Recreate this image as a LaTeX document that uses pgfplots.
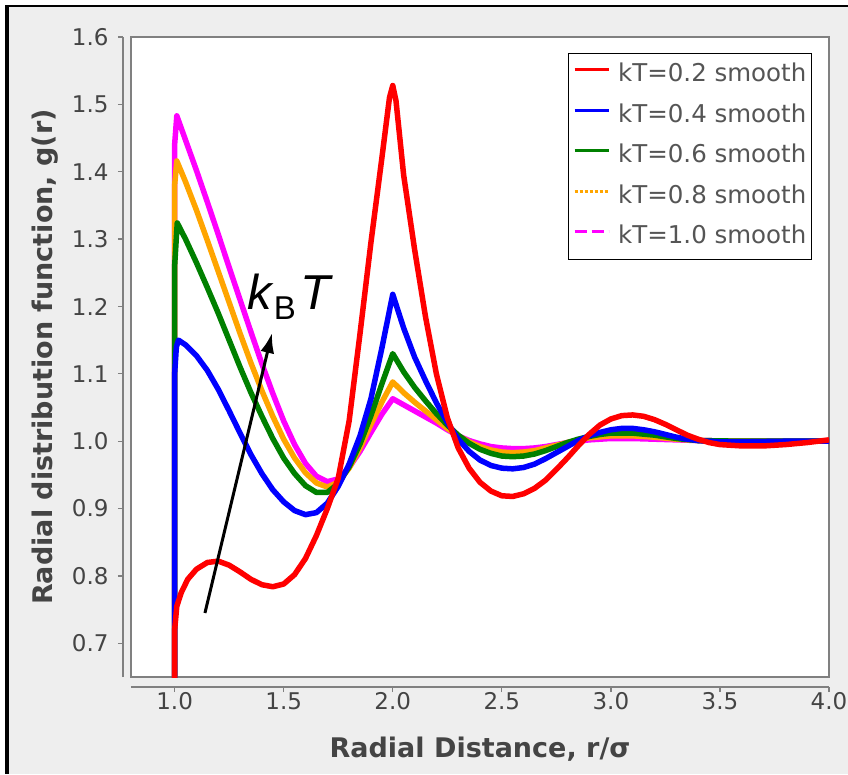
\documentclass[border=0pt]{standalone}
\usepackage{pgfplots}
\pgfplotsset{compat=1.18}
\usetikzlibrary{arrows.meta}
\usepackage{fontspec}
\setmainfont{DejaVu Sans}
\newfontfamily\kfont{Liberation Sans}
\definecolor{panel}{RGB}{238,238,238}
\definecolor{txt}{RGB}{68,68,68}
\definecolor{legtxt}{RGB}{85,85,85}
\definecolor{frame}{RGB}{128,128,128}
\definecolor{cred}{RGB}{255,0,0}
\definecolor{cblue}{RGB}{0,0,255}
\definecolor{cgreen}{RGB}{0,128,0}
\definecolor{corange}{RGB}{255,165,0}
\definecolor{cmag}{RGB}{255,0,255}

\pgfplotstableread{
x y
1.000 0.600
1.000 0.720
1.010 0.755
1.030 0.775
1.060 0.795
1.100 0.810
1.150 0.820
1.200 0.822
1.250 0.816
1.300 0.806
1.350 0.795
1.400 0.787
1.450 0.784
1.500 0.788
1.550 0.802
1.600 0.826
1.650 0.860
1.700 0.900
1.750 0.945
1.800 1.030
1.850 1.160
1.900 1.295
1.950 1.420
1.985 1.510
2.000 1.528
2.015 1.505
2.050 1.395
2.100 1.285
2.150 1.185
2.200 1.100
2.250 1.035
2.300 0.990
2.350 0.960
2.400 0.939
2.450 0.926
2.500 0.919
2.550 0.918
2.600 0.922
2.650 0.930
2.700 0.942
2.750 0.958
2.800 0.975
2.850 0.993
2.900 1.010
2.950 1.024
3.000 1.033
3.050 1.038
3.100 1.039
3.150 1.037
3.200 1.032
3.250 1.025
3.300 1.017
3.350 1.009
3.400 1.003
3.450 0.998
3.500 0.995
3.600 0.993
3.700 0.993
3.800 0.995
3.900 0.998
4.000 1.002
}\kTa

\pgfplotstableread{
x y
1.000 0.600
1.000 1.100
1.008 1.140
1.018 1.150
1.050 1.143
1.100 1.127
1.150 1.105
1.200 1.077
1.250 1.045
1.300 1.012
1.350 0.980
1.400 0.952
1.450 0.928
1.500 0.910
1.550 0.897
1.600 0.891
1.650 0.894
1.700 0.908
1.750 0.933
1.800 0.966
1.850 1.008
1.900 1.063
1.950 1.138
2.000 1.218
2.050 1.168
2.100 1.125
2.150 1.090
2.200 1.057
2.250 1.028
2.300 1.003
2.350 0.985
2.400 0.972
2.450 0.964
2.500 0.960
2.550 0.959
2.600 0.961
2.650 0.966
2.700 0.974
2.750 0.983
2.800 0.992
2.850 1.001
2.900 1.008
2.950 1.013
3.000 1.017
3.050 1.019
3.100 1.019
3.150 1.017
3.200 1.014
3.250 1.010
3.300 1.006
3.350 1.003
3.400 1.001
3.500 0.999
3.600 0.999
3.800 1.000
4.000 1.000
}\kTb

\pgfplotstableread{
x y
1.000 0.600
1.000 1.260
1.012 1.324
1.050 1.300
1.100 1.265
1.150 1.228
1.200 1.190
1.250 1.150
1.300 1.110
1.350 1.072
1.400 1.037
1.450 1.004
1.500 0.975
1.550 0.952
1.600 0.934
1.650 0.924
1.700 0.924
1.750 0.937
1.800 0.962
1.850 0.996
1.900 1.038
1.950 1.085
2.000 1.130
2.050 1.103
2.100 1.080
2.150 1.060
2.200 1.041
2.250 1.024
2.300 1.009
2.350 0.997
2.400 0.988
2.450 0.982
2.500 0.978
2.550 0.977
2.600 0.978
2.650 0.981
2.700 0.986
2.750 0.992
2.800 0.998
2.850 1.003
2.900 1.007
2.950 1.010
3.000 1.012
3.100 1.012
3.200 1.009
3.300 1.004
3.400 1.001
3.600 1.000
4.000 1.000
}\kTc

\pgfplotstableread{
x y
1.000 0.600
1.000 1.380
1.010 1.416
1.050 1.385
1.100 1.343
1.150 1.298
1.200 1.252
1.250 1.206
1.300 1.160
1.350 1.116
1.400 1.075
1.450 1.037
1.500 1.003
1.550 0.975
1.600 0.953
1.650 0.938
1.700 0.932
1.750 0.939
1.800 0.960
1.850 0.990
1.900 1.025
1.950 1.058
2.000 1.088
2.050 1.072
2.100 1.058
2.150 1.045
2.200 1.032
2.250 1.019
2.300 1.008
2.350 0.999
2.400 0.992
2.450 0.987
2.500 0.984
2.550 0.983
2.600 0.984
2.650 0.986
2.700 0.990
2.750 0.994
2.800 0.998
2.850 1.002
2.900 1.005
3.000 1.008
3.100 1.008
3.200 1.006
3.300 1.003
3.400 1.001
3.600 1.000
4.000 1.000
}\kTd

\pgfplotstableread{
x y
1.000 0.600
1.000 1.440
1.010 1.483
1.050 1.447
1.100 1.402
1.150 1.355
1.200 1.307
1.250 1.258
1.300 1.210
1.350 1.162
1.400 1.115
1.450 1.071
1.500 1.030
1.550 0.995
1.600 0.967
1.650 0.948
1.700 0.940
1.750 0.944
1.800 0.961
1.850 0.985
1.900 1.013
1.950 1.040
2.000 1.063
2.050 1.054
2.100 1.045
2.150 1.036
2.200 1.027
2.250 1.017
2.300 1.008
2.350 1.001
2.400 0.996
2.450 0.992
2.500 0.990
2.550 0.989
2.600 0.989
2.650 0.990
2.700 0.992
2.750 0.995
2.800 0.998
2.850 1.000
2.900 1.002
3.000 1.004
3.100 1.004
3.200 1.003
3.300 1.002
3.400 1.001
3.600 1.000
4.000 1.000
}\kTe

\begin{document}
\begin{tikzpicture}
\useasboundingbox (-131pt,-97pt) rectangle (717pt,677pt);
\fill[white] (-131pt,-97pt) rectangle (717pt,677pt);
\fill[panel] (-122pt,-97pt) rectangle (717pt,669.5pt);
\fill[black] (-126pt,-97pt) rectangle (-122pt,672pt);
\fill[black] (-126pt,669.5pt) rectangle (717pt,672pt);

\pgfplotsset{common/.style={scale only axis, width=698pt, height=640pt,
  xmin=0.8, xmax=4.0, ymin=0.65, ymax=1.6, anchor=south west}}

% x axis (offset below the plot area)
\begin{axis}[common, at={(0pt,-10pt)},
  axis x line=bottom, axis y line=none,
  x axis line style={-, draw=frame, line width=1.3pt},
  xtick={1,1.5,2,2.5,3,3.5,4}, tick align=outside, major tick length=5pt,
  xtick style={draw=frame, line width=1.3pt},
  xticklabel style={/pgf/number format/fixed, /pgf/number format/fixed zerofill,
    /pgf/number format/precision=1, /pgf/number format/assume math mode=true,
    font=\fontsize{23}{23}\selectfont, text=txt, yshift=3pt},
  xlabel={Radial Distance, r/σ},
  every axis x label/.style={at={(axis description cs:0.5,0)}, anchor=base,
    yshift=-70pt, font=\bfseries\fontsize{27}{27}\selectfont, text=txt}]
\end{axis}

% y axis (offset left of the plot area)
\begin{axis}[common, at={(-8pt,0pt)},
  axis y line=left, axis x line=none,
  y axis line style={-, draw=frame, line width=1.3pt},
  ytick={0.7,0.8,0.9,1.0,1.1,1.2,1.3,1.4,1.5,1.6}, tick align=outside, major tick length=5pt,
  ytick style={draw=frame, line width=1.3pt},
  yticklabel style={/pgf/number format/fixed, /pgf/number format/fixed zerofill,
    /pgf/number format/precision=1, /pgf/number format/assume math mode=true,
    font=\fontsize{23}{23}\selectfont, text=txt, xshift=-6pt},
  ylabel={Radial distribution function, g(r)},
  every axis y label/.style={at={([xshift=-70pt]axis description cs:0,0.5)}, rotate=90,
    anchor=base, font=\bfseries\fontsize{27}{27}\selectfont, text=txt}]
\end{axis}

% data axis
\begin{axis}[common, at={(0pt,0pt)},
  xtick=\empty, ytick=\empty,
  axis background/.style={fill=white},
  axis line style={draw=frame, line width=1.3pt},
  legend style={at={(0.9756,0.975)}, anchor=north east, draw=black, line width=1.2pt,
    fill=white, font=\fontsize{24.5}{24.5}\selectfont, text=legtxt,
    inner xsep=5pt, inner ysep=11pt, row sep=18.5pt,
    nodes={inner sep=0pt, text height=17pt, text depth=5pt},
    /tikz/every odd column/.append style={column sep=8pt}},
  legend cell align=left,
  legend image code/.code={\draw[#1, line width=3pt] (0pt,6pt) -- (34pt,6pt);},
  every axis plot/.append style={line width=5.5pt, line join=round}]
\addplot[cmag, forget plot] table {\kTe};
\addplot[corange, forget plot] table {\kTd};
\addplot[cgreen, forget plot] table {\kTc};
\addplot[cblue, forget plot] table {\kTb};
\addplot[cred, forget plot] table {\kTa};
\addlegendimage{cred}
\addlegendentry{kT=0.2 smooth}
\addlegendimage{cblue}
\addlegendentry{kT=0.4 smooth}
\addlegendimage{cgreen}
\addlegendentry{kT=0.6 smooth}
\addlegendimage{corange, dash pattern=on 3pt off 2pt}
\addlegendentry{kT=0.8 smooth}
\addlegendimage{cmag, dash pattern=on 12pt off 5pt}
\addlegendentry{kT=1.0 smooth\hspace{4pt}}
\draw[-{Latex[length=20pt,width=14pt]}, line width=3pt, black]
  (axis cs:1.139,0.745) -- (axis cs:1.4465,1.1606);
\node[anchor=base west, inner sep=0pt, text=black] at (axis cs:1.332,1.1948)
  {\kfont\fontsize{49}{49}\selectfont\textit{k}\raisebox{-10pt}{\fontsize{33}{33}\selectfont B}\hspace{5pt}\textit{T}};
\end{axis}
\end{tikzpicture}
\end{document}
